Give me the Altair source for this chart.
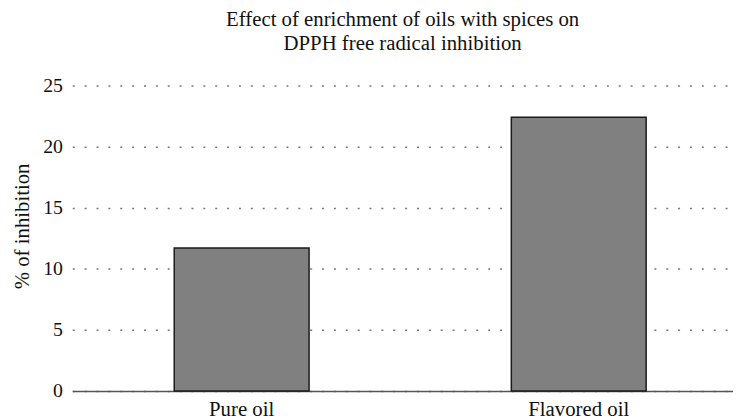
import altair as alt
import pandas as pd

categories = ["Pure oil", "Flavored oil"]
values = [11.7, 22.4]
y_ticks = [0, 5, 10, 15, 20, 25]
title_lines = ["Effect of enrichment of oils with spices on", "DPPH free radical inhibition"]

df = pd.DataFrame({"cat": categories, "val": values})

FONT = "Liberation Serif"

chart = alt.Chart(df).mark_bar(
    color="#808080", stroke="#1a1a1a", strokeWidth=1.5
).encode(
    x=alt.X("cat:N", sort=categories, title=None,
            scale=alt.Scale(paddingInner=0.6, paddingOuter=0.28, align=0.54),
            axis=alt.Axis(labelAngle=0, ticks=False, tickSize=0, labelPadding=8,
                          domain=True, domainColor="#555555", domainWidth=1.5,
                          labelFont=FONT, labelFontSize=21, labelColor="#111111",
                          grid=False)),
    y=alt.Y("val:Q", title="% of inhibition",
            scale=alt.Scale(domain=[0, 25], nice=False),
            axis=alt.Axis(values=y_ticks, ticks=False, tickSize=0, domain=False,
                          labelPadding=10, labelFont=FONT, labelFontSize=20,
                          labelColor="#111111",
                          titleFont=FONT, titleFontSize=21, titleFontWeight="normal",
                          titleColor="#111111", titleX=-40, titleY=142, titleAlign="center",
                          grid=True, gridColor="#777777", gridDash=[2, 10], gridWidth=1.5)),
).properties(
    width=668, height=309,
    title=alt.TitleParams(text=title_lines, font=FONT, fontSize=21, fontWeight="normal",
                          color="#111111", anchor="middle", offset=22, lineHeight=24),
    autosize=alt.AutoSizeParams(type="none"),
    padding={"left": 65, "top": 76, "right": 0, "bottom": 30},
).configure_view(stroke=None)

chart.save("out.html", embed_options={"renderer": "svg", "actions": False})
